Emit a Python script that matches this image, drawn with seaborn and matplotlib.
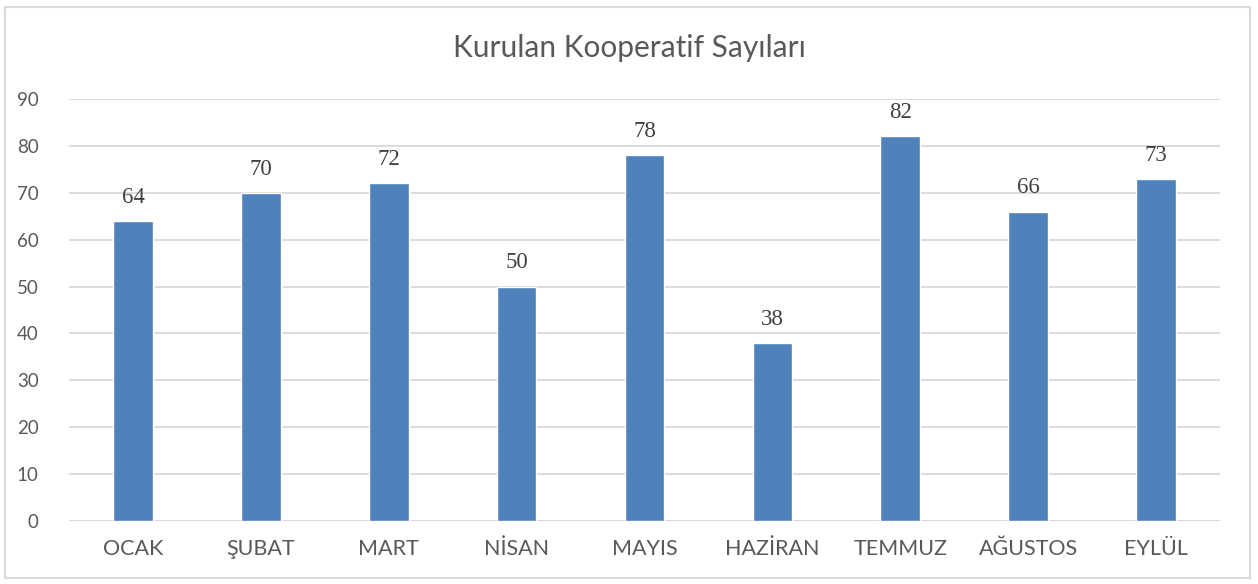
import matplotlib
matplotlib.use('Agg')
import matplotlib.pyplot as plt
import seaborn as sns
import pandas as pd
from matplotlib.patches import Rectangle

# Data
months = ['OCAK', 'ŞUBAT', 'MART', 'NİSAN', 'MAYIS', 'HAZİRAN', 'TEMMUZ', 'AĞUSTOS', 'EYLÜL']
counts = [64, 70, 72, 50, 78, 38, 82, 66, 73]
y_ticks = [0, 10, 20, 30, 40, 50, 60, 70, 80, 90]

df = pd.DataFrame({'ay': months, 'sayi': counts})

sns.set_style('white')
plt.rcParams['font.family'] = ['Lato', 'DejaVu Sans']

fig = plt.figure(figsize=(12.58, 5.84), dpi=100)
ax = fig.add_axes([0.0549, 0.1079, 0.9149, 0.7226])

sns.barplot(data=df, x='ay', y='sayi', color='#4F81BD', saturation=1, width=0.31, ax=ax)

ax.set_ylim(0, 90)
ax.set_xlim(-0.5, len(months) - 0.5)
ax.set_yticks(y_ticks)
ax.yaxis.grid(True, color='#D9D9D9', linewidth=1.3)
ax.set_axisbelow(True)
for s in ax.spines.values():
    s.set_visible(False)
ax.axhline(0, color='#D9D9D9', linewidth=1.3, zorder=0.5)
ax.set_xlabel('')
ax.set_ylabel('')
ax.tick_params(axis='x', length=0, pad=13, labelsize=15.5, labelcolor='#595959')
ax.tick_params(axis='y', length=0, pad=22, labelsize=13.5, labelcolor='#595959')

for i, v in enumerate(counts):
    ax.text(i, v + 2.8, str(v), ha='center', va='bottom', fontsize=16.5,
            color='#404040', family=['Liberation Serif', 'DejaVu Serif'])

fig.text(0.5, 0.917, 'Kurulan Kooperatif Sayıları', ha='center', va='center',
         fontsize=21.5, color='#595959')

fig.patches.append(Rectangle((0.004, 0.01), 0.99, 0.978, transform=fig.transFigure,
                             fill=False, edgecolor='#D9D9D9', linewidth=1.5))

fig.savefig('out.png', dpi=100, facecolor='white')
